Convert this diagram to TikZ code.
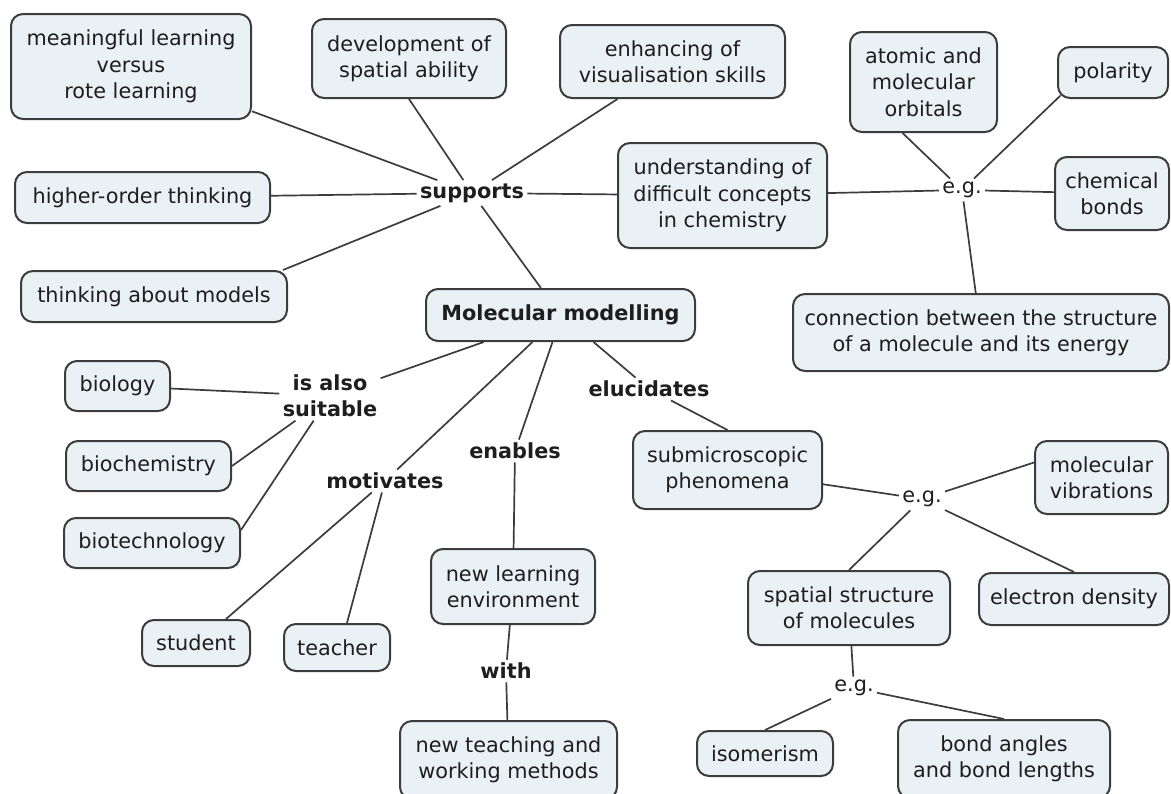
\documentclass[tikz,border=0pt]{standalone}
\usepackage{fontspec}
\setmainfont{DejaVu Sans}
\usetikzlibrary{shapes,arrows,calc}
\definecolor{boxfill}{RGB}{234,241,245}
\definecolor{boxline}{RGB}{60,60,60}
\definecolor{ink}{RGB}{30,30,30}
\tikzstyle{concept} = [rectangle, draw=boxline, line width=1pt, fill=boxfill, text=ink, rounded corners=6pt,
    align=center, inner sep=2pt, font=\fontsize{10.4}{13.2}\selectfont]
\tikzstyle{phrase} = [inner sep=1.5pt, text=ink, align=center, font=\fontsize{10.4}{13.2}\selectfont\bfseries]
\tikzstyle{eg} = [inner sep=1.5pt, text=ink, font=\fontsize{10.4}{13.2}\selectfont]
\tikzstyle{line} = [draw=boxline, line width=0.85pt]
\begin{document}
\begin{tikzpicture}[x=0.5pt,y=-0.5pt]
      \useasboundingbox (0,0) rectangle (1171,793);
      % centre
      \node [concept, font=\fontsize{10.4}{13.2}\selectfont\bfseries, minimum width=134.5pt, minimum height=26pt] (mm) at (560.5,315) {Molecular modelling};
      \node [phrase] (supports) at (472,193) {supports};
      \node [phrase] (isalso) at (330,396) {is also\\suitable};
      \node [phrase] (elucidates) at (649,389) {elucidates};
      \node [phrase] (enables) at (515,451) {enables};
      \node [phrase] (motivates) at (385,481) {motivates};
      \node [phrase] (with) at (506,671) {with};
      \node [eg] (eg1) at (962,190) {e.g.};
      \node [eg] (eg2) at (922,499) {e.g.};
      \node [eg] (eg3) at (854,688) {e.g.};

      % upper half
      \node [concept, minimum width=120pt, minimum height=52.5pt] (mlr) at (131,66.5) {meaningful learning\\versus\\rote learning};
      \node [concept, minimum width=97pt, minimum height=39.5pt] (dsa) at (409,58.5) {development of\\spatial ability};
      \node [concept, minimum width=112.5pt, minimum height=36.5pt] (evs) at (672.5,61.5) {enhancing of\\visualisation skills};
      \node [concept, minimum width=127.5pt, minimum height=25.5pt] (hot) at (142.5,197.5) {higher-order thinking};
      \node [concept, minimum width=133pt, minimum height=25.5pt] (tam) at (154,296.5) {thinking about models};
      \node [concept, minimum width=104.5pt, minimum height=52.5pt] (udc) at (722.5,195.5) {understanding of\\difficult concepts\\in chemistry};
      \node [concept, minimum width=73.5pt, minimum height=50pt] (orbitals) at (923.5,82) {atomic and\\molecular\\orbitals};
      \node [concept, minimum width=55pt, minimum height=25.5pt] (polarity) at (1113,72.5) {polarity};
      \node [concept, minimum width=57pt, minimum height=36.5pt] (bonds) at (1112,193.5) {chemical\\bonds};
      \node [concept, minimum width=188pt, minimum height=38.5pt] (energy) at (981,332.5) {connection between the structure\\of a molecule and its energy};

      % lower half
      \node [concept, minimum width=52.5pt, minimum height=25pt] (biology) at (117.5,386) {biology};
      \node [concept, minimum width=82.5pt, minimum height=25pt] (biochem) at (148.5,466) {biochemistry};
      \node [concept, minimum width=88pt, minimum height=25pt] (biotech) at (152,543) {biotechnology};
      \node [concept, minimum width=54pt, minimum height=23pt] (student) at (196,643) {student};
      \node [concept, minimum width=53pt, minimum height=23.5pt] (teacher) at (337,647.5) {teacher};
      \node [concept, minimum width=82pt, minimum height=37.5pt] (nle) at (513,586.5) {new learning\\environment};
      \node [concept, minimum width=108.5pt, minimum height=39pt] (methods) at (508.5,760) {new teaching and\\working methods};
      \node [concept, minimum width=94.5pt, minimum height=39pt] (smp) at (727.5,470) {submicroscopic\\phenomena};
      \node [concept, minimum width=66.5pt, minimum height=36.5pt] (vib) at (1101.5,477.5) {molecular\\vibrations};
      \node [concept, minimum width=101pt, minimum height=37pt] (ssm) at (849,608) {spatial structure\\of molecules};
      \node [concept, minimum width=95pt, minimum height=26pt] (density) at (1074,599) {electron density};
      \node [concept, minimum width=68pt, minimum height=22.5pt] (isomerism) at (765,753.5) {isomerism};
      \node [concept, minimum width=106pt, minimum height=39pt] (angles) at (1004,759) {bond angles\\and bond lengths};

      % supports
      \path [line] (mlr) -- (supports);
      \path [line] (dsa.south) -- (supports);
      \path [line] ($(evs.south)+(-55,0)$) -- (supports);
      \path [line] (hot) -- (supports);
      \path [line] ($(tam.north east)+(-5,0)$) -- (supports);
      \path [line] (supports) -- (udc);
      \path [line] (supports) -- (mm);
      \path [line] (udc) -- (eg1);
      \path [line] ($(orbitals.south)+(-21,0)$) -- (eg1);
      \path [line] ($(polarity.south west)+(3.5,-3.5)$) -- (eg1);
      \path [line] (eg1) -- (bonds);
      \path [line] (eg1) -- (energy);

      % is also suitable
      \path [line] (mm) -- (isalso);
      \path [line] (biology) -- (isalso);
      \path [line] (biochem.east) -- (isalso);
      \path [line] ($(biotech.east)+(0,-13)$) -- (isalso);

      % motivates, enables
      \path [line] ($(mm.south)+(-28,0)$) -- (motivates);
      \path [line] (motivates) -- ($(student.north)+(30,0)$);
      \path [line] (motivates) -- ($(teacher.north)+(10,0)$);
      \path [line] ($(mm.south)+(-8,0)$) -- (enables);
      \path [line] (enables) -- (nle);
      \path [line] (nle) -- (with);
      \path [line] (with) -- (methods);

      % elucidates
      \path [line] ($(mm.south)+(33,0)$) -- (elucidates);
      \path [line] (elucidates) -- (smp.north);
      \path [line] (smp) -- (eg2);
      \path [line] (eg2) -- ($(vib.west)+(0,-15)$);
      \path [line] (eg2) -- (ssm.north);
      \path [line] (eg2) -- (density.north);
      \path [line] (ssm) -- (eg3);
      \path [line] (eg3) -- (isomerism.north);
      \path [line] (eg3) -- (angles.north);
\end{tikzpicture}
\end{document}
